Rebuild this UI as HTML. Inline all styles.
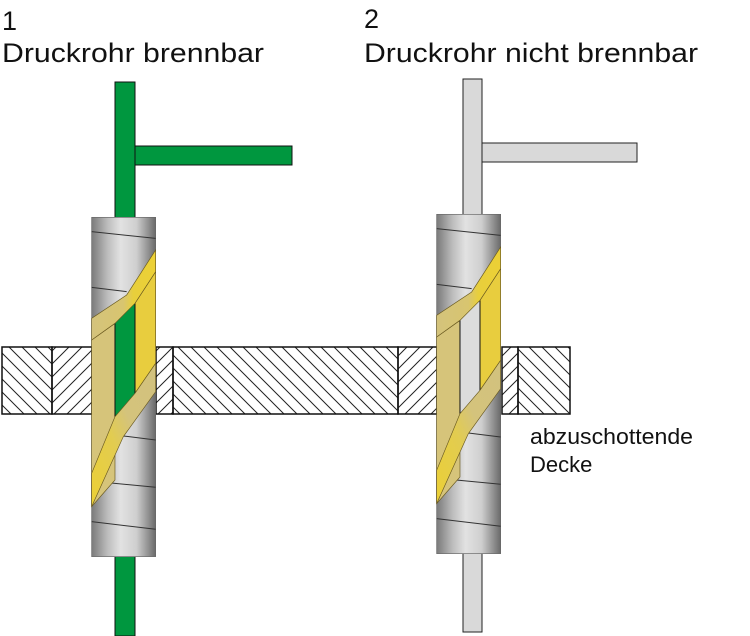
<!DOCTYPE html>
<html><head><style>html,body{margin:0;padding:0;background:#fff}svg{display:block}</style></head><body>
<svg width="750" height="636" viewBox="0 0 750 636" xmlns="http://www.w3.org/2000/svg">
<defs>
<pattern id="hb" width="13" height="13" patternUnits="userSpaceOnUse"><path d="M-3,-3 L16,16 M-3,10 L3,16 M10,-3 L16,3" stroke="#222" stroke-width="1"/></pattern>
<pattern id="hf" width="13" height="13" patternUnits="userSpaceOnUse"><path d="M-3,16 L16,-3 M-3,3 L3,-3 M10,16 L16,10" stroke="#222" stroke-width="1"/></pattern>
<linearGradient id="cyl" x1="0" x2="1" y1="0" y2="0">
<stop offset="0" stop-color="#7a7a7a"/><stop offset="0.25" stop-color="#bdbdbd"/><stop offset="0.45" stop-color="#e2e2e2"/><stop offset="0.7" stop-color="#cfcfcf"/><stop offset="1" stop-color="#6a6a6a"/></linearGradient>
<linearGradient id="band1" x1="0" x2="1" y1="0" y2="0"><stop offset="0" stop-color="#d4c37c"/><stop offset="0.5" stop-color="#d8c56f"/><stop offset="0.65" stop-color="#e8cf3c"/><stop offset="1" stop-color="#ecd035"/></linearGradient>
<linearGradient id="band2" x1="0" x2="1" y1="1" y2="0"><stop offset="0" stop-color="#ecd035"/><stop offset="0.4" stop-color="#e2cc50"/><stop offset="0.6" stop-color="#d4c37c"/><stop offset="1" stop-color="#d2c27e"/></linearGradient>
<g id="cylbody">
<rect x="275" y="52" width="192" height="1018" fill="url(#cyl)" stroke="#666" stroke-width="2"/>
<g stroke="#333" stroke-width="3" fill="none">
<path d="M275,95 L467,115"/><path d="M275,262 L380,275"/><path d="M370,708 L467,720"/><path d="M290,845 L467,862"/><path d="M275,965 L467,988"/>
</g>
<polygon points="275,420 345,370 345,840 275,920" fill="#d6c47a" stroke="#6a5a20" stroke-width="2"/>
<polygon points="405,310 467,215 467,490 405,580" fill="#e8cd3e" stroke="#6a5a20" stroke-width="2"/>
</g>
<g id="bands">
<polygon points="467,150 467,215 405,310 345,370 275,420 275,355 380,285" fill="url(#band1)" stroke="#6a5a20" stroke-width="2"/>
<polygon points="467,490 467,575 370,710 275,920 275,820 345,650 405,580" fill="url(#band2)" stroke="#6a5a20" stroke-width="2"/>
</g>
</defs>

<!-- text -->
<g font-family="Liberation Sans, sans-serif" fill="#111">
<text x="2" y="30" font-size="27">1</text>
<text x="2" y="62" font-size="27" textLength="262" lengthAdjust="spacingAndGlyphs">Druckrohr brennbar</text>
<text x="364" y="28" font-size="27">2</text>
<text x="364" y="62" font-size="27" textLength="334" lengthAdjust="spacingAndGlyphs">Druckrohr nicht brennbar</text>
<text x="530" y="444" font-size="22" textLength="163" lengthAdjust="spacingAndGlyphs">abzuschottende</text>
<text x="530" y="472" font-size="22">Decke</text>
</g>

<!-- pipes -->
<rect x="115" y="82" width="20" height="554" fill="#00973f" stroke="#111" stroke-width="1"/>
<rect x="135" y="146" width="157" height="19" fill="#00973f" stroke="#111" stroke-width="1"/>
<rect x="463" y="79" width="19" height="553" fill="#d9d9d9" stroke="#222" stroke-width="1"/>
<rect x="482" y="143" width="155" height="19" fill="#d9d9d9" stroke="#222" stroke-width="1"/>

<!-- slab -->
<g stroke="#111" stroke-width="1.5">
<rect x="2" y="347" width="50" height="67" fill="url(#hb)"/>
<rect x="52" y="347" width="40" height="67" fill="url(#hf)"/>
<rect x="156" y="347" width="17" height="67" fill="url(#hf)"/>
<rect x="173" y="347" width="225" height="67" fill="url(#hb)"/>
<rect x="398" y="347" width="39" height="67" fill="url(#hf)"/>
<rect x="502" y="347" width="16" height="67" fill="url(#hf)"/>
<rect x="518" y="347" width="52" height="67" fill="url(#hb)"/>
</g>

<!-- left cylinder -->
<g transform="translate(0,200) scale(0.3333)">
<use href="#cylbody"/>
<rect x="345" y="310" width="60" height="340" fill="#00973f" stroke="#111" stroke-width="3"/>
<use href="#bands"/>
</g>
<!-- right cylinder -->
<g transform="translate(345,197) scale(0.3333)">
<use href="#cylbody"/>
<rect x="345" y="310" width="60" height="340" fill="#dcdcdc" stroke="#111" stroke-width="3"/>
<use href="#bands"/>
</g>
</svg>
</body></html>
